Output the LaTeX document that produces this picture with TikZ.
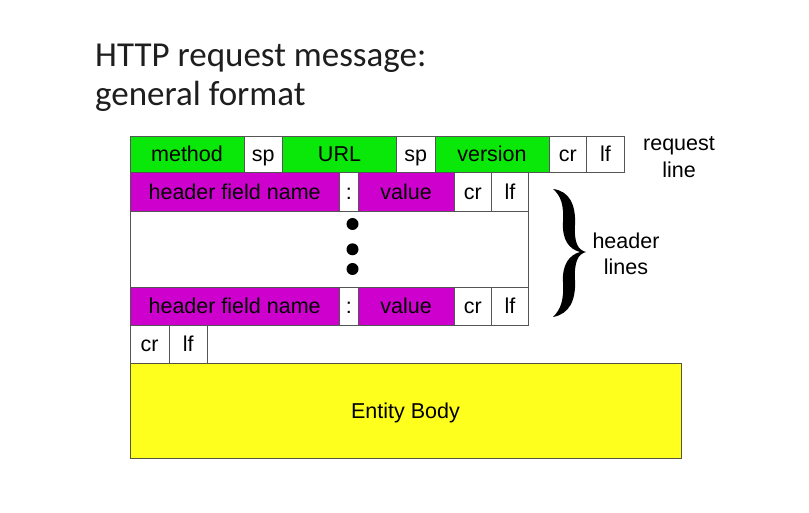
\documentclass[tikz,border=0pt]{standalone}
\usepackage{fontspec}
\setmainfont{Liberation Sans}
\newfontfamily\titlefont{Carlito}
\definecolor{cgreen}{RGB}{10,232,10}
\definecolor{cmag}{RGB}{206,0,206}
\definecolor{cyel}{RGB}{255,255,30}
\definecolor{cborder}{RGB}{85,85,85}
\definecolor{ctitle}{RGB}{30,30,30}
\tikzset{
  cell/.style={draw=cborder, line width=0.8pt, fill=white, inner sep=0pt,
    font=\fontsize{21.5}{24}\selectfont, text height=15.4pt, text depth=0pt},
  gcell/.style={cell, fill=cgreen},
  mcell/.style={cell, fill=cmag},
  lbl/.style={font=\fontsize{21.5}{24}\selectfont, inner sep=0pt, anchor=base},
  ttl/.style={font=\titlefont\fontsize{35}{39}\selectfont, text=ctitle, inner sep=0pt, anchor=base west},
  dotm/.style={circle, fill=black, inner sep=0pt, minimum size=12pt}
}
\begin{document}
\begin{tikzpicture}[x=1pt,y=-1pt]
\useasboundingbox[fill=white] (0,0) rectangle (809,513);
% title
\node[ttl] (t1) at (95,66.7) {HTTP request message:};
\node[ttl] (t2) at (95,106) {general format};
% request line
\node[gcell, minimum width=114pt, minimum height=36.5pt] (method) at (187,154.25) {method};
\node[cell, minimum width=38.3pt, minimum height=36.5pt] (sp1) at (263.15,154.25) {sp};
\node[gcell, minimum width=114.4pt, minimum height=36.5pt] (url) at (339.5,154.25) {URL};
\node[cell, minimum width=38.3pt, minimum height=36.5pt] (sp2) at (415.85,154.25) {sp};
\node[gcell, minimum width=114pt, minimum height=36.5pt] (version) at (492,154.25) {version};
\node[cell, minimum width=37.7pt, minimum height=36.5pt] (cr0) at (567.85,154.25) {cr};
\node[cell, minimum width=37.6pt, minimum height=36.5pt] (lf0) at (605.5,154.25) {lf};
% header line 1
\node[mcell, minimum width=209.3pt, minimum height=39.2pt] (hfn1) at (234.65,192.1) {header field name};
\node[cell, minimum width=19pt, minimum height=39.2pt] (col1) at (348.8,192.1) {:};
\node[mcell, minimum width=95.7pt, minimum height=39.2pt] (val1) at (406.15,192.1) {value};
\node[cell, minimum width=37.7pt, minimum height=39.2pt] (cr1) at (472.85,192.1) {cr};
\node[cell, minimum width=36.6pt, minimum height=39.2pt] (lf1) at (510,192.1) {lf};
% blank region
\node[cell, minimum width=398.3pt, minimum height=75.6pt] (blank) at (329.15,249.5) {};
\node[dotm] (d1) at (352.5,224) {};
\node[dotm] (d2) at (352.5,249.3) {};
\node[dotm] (d3) at (352.5,269) {};
% header line n
\node[mcell, minimum width=209.3pt, minimum height=37.7pt] (hfn2) at (234.65,306.15) {header field name};
\node[cell, minimum width=19pt, minimum height=37.7pt] (col2) at (348.8,306.15) {:};
\node[mcell, minimum width=95.7pt, minimum height=37.7pt] (val2) at (406.15,306.15) {value};
\node[cell, minimum width=37.7pt, minimum height=37.7pt] (cr2) at (472.85,306.15) {cr};
\node[cell, minimum width=36.6pt, minimum height=37.7pt] (lf2) at (510,306.15) {lf};
% blank line
\node[cell, minimum width=39pt, minimum height=38.3pt] (cr3) at (149.5,344.15) {cr};
\node[cell, minimum width=38.3pt, minimum height=38.3pt] (lf3) at (188.15,344.15) {lf};
% entity body
\node[cell, fill=cyel, draw=black!60!yellow!60!black, minimum width=551pt, minimum height=95pt] (body) at (405.5,410.8) {Entity Body};
% brace
\fill (553,189) .. controls (569,191) and (576,204) .. (575,225)
  .. controls (574,243) and (578,250) .. (586,252)
  .. controls (578,254) and (574,262) .. (575,280)
  .. controls (576,301) and (569,314) .. (553,317)
  .. controls (561,309) and (564,300) .. (563,282)
  .. controls (562,265) and (569,255) .. (580,252)
  .. controls (569,249) and (562,240) .. (563,222)
  .. controls (564,205) and (561,196) .. (553,189) -- cycle;
% labels
\node[lbl] (rq1) at (679,151) {request};
\node[lbl] (rq2) at (679,177.3) {line};
\node[lbl] (hl1) at (626,248.3) {header};
\node[lbl] (hl2) at (626,275) {lines};
\end{tikzpicture}
\end{document}
